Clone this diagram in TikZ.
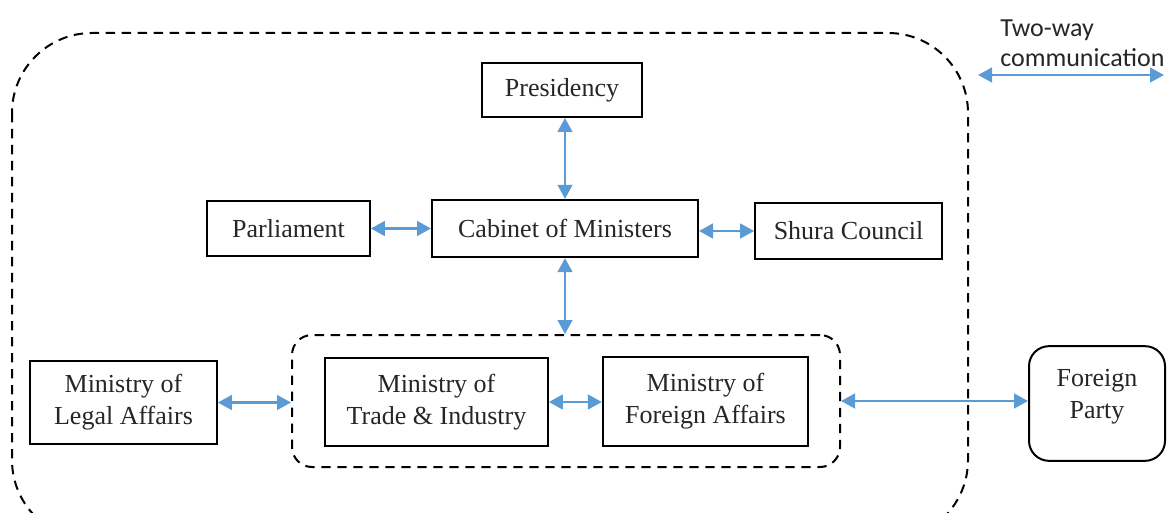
\documentclass[tikz,border=0pt]{standalone}
\usepackage{fontspec}
\setmainfont{Liberation Serif}
\newfontfamily\legendfont{Carlito}
\usetikzlibrary{arrows.meta}
\definecolor{arrowblue}{HTML}{5B9BD5}
\begin{document}
\begin{tikzpicture}[x=0.75pt,y=-0.75pt,
  box/.style={draw=black,line width=1.5pt,inner sep=0pt,align=center,
    font=\fontsize{19.5}{24}\selectfont,text=black!85},
  grpbox/.style={draw=black,line width=1.5pt,dash pattern=on 7pt off 5pt,rounded corners=15pt,inner sep=0pt},
  twoway/.style={draw=arrowblue,line width=1.8pt,{Triangle[length=10.5pt,width=11pt]}-{Triangle[length=10.5pt,width=11pt]}},
  legendtext/.style={align=left,anchor=north west,inner sep=0pt,font=\legendfont\fontsize{19.5}{22.5}\selectfont,text=black!85}]
\useasboundingbox (0,0) rectangle (1167,513);
\begin{scope}
\clip (0,0) rectangle (1167,513);
\draw[line width=1.5pt,dash pattern=on 7pt off 5pt,rounded corners=60pt] (12,33) rectangle (968,540);
\end{scope}
\node[box,minimum width=120pt,minimum height=40.5pt] (pres) at (562,90) {Presidency};
\node[box,minimum width=122pt,minimum height=41pt] (parl) at (288.5,228.5) {Parliament};
\node[box,minimum width=199.5pt,minimum height=43pt] (cab) at (565,228.5) {Cabinet of Ministers};
\node[box,minimum width=140pt,minimum height=42pt] (shura) at (848.5,231) {Shura Council};
\node[grpbox,minimum width=411pt,minimum height=99pt] (grp) at (566,401) {};
\node[box,minimum width=167pt,minimum height=66pt] (trade) at (436.5,402) {Ministry of\\Trade \& Industry};
\node[box,minimum width=154pt,minimum height=67pt] (fa) at (705.5,401.5) {Ministry of\\Foreign Affairs};
\node[box,minimum width=140pt,minimum height=62pt] (legal) at (123.5,402.5) {Ministry of\\Legal Affairs};
\node[box,rounded corners=15pt,minimum width=102pt,minimum height=86pt] (fp) at (1097,403.5) {Foreign\\Party\\[-10pt]};
\node[legendtext] (leg) at (1000,20) {Two-way\\communication};
\coordinate (la) at (978,75);
\coordinate (lb) at (1164,75);
\draw[twoway] (la) -- (lb);
\draw[twoway] (cab.north |- pres.south) -- (cab.north);
\draw[twoway] (parl.east) -- (cab.west |- parl.east);
\draw[twoway] (cab.east |- shura.west) -- (shura.west);
\draw[twoway] (cab.south) -- (cab.south |- grp.north);
\draw[twoway] (legal.east) -- (grp.west |- legal.east);
\draw[twoway] (trade.east) -- (fa.west |- trade.east);
\draw[twoway] (grp.east) -- (fp.west |- grp.east);
\end{tikzpicture}
\end{document}
